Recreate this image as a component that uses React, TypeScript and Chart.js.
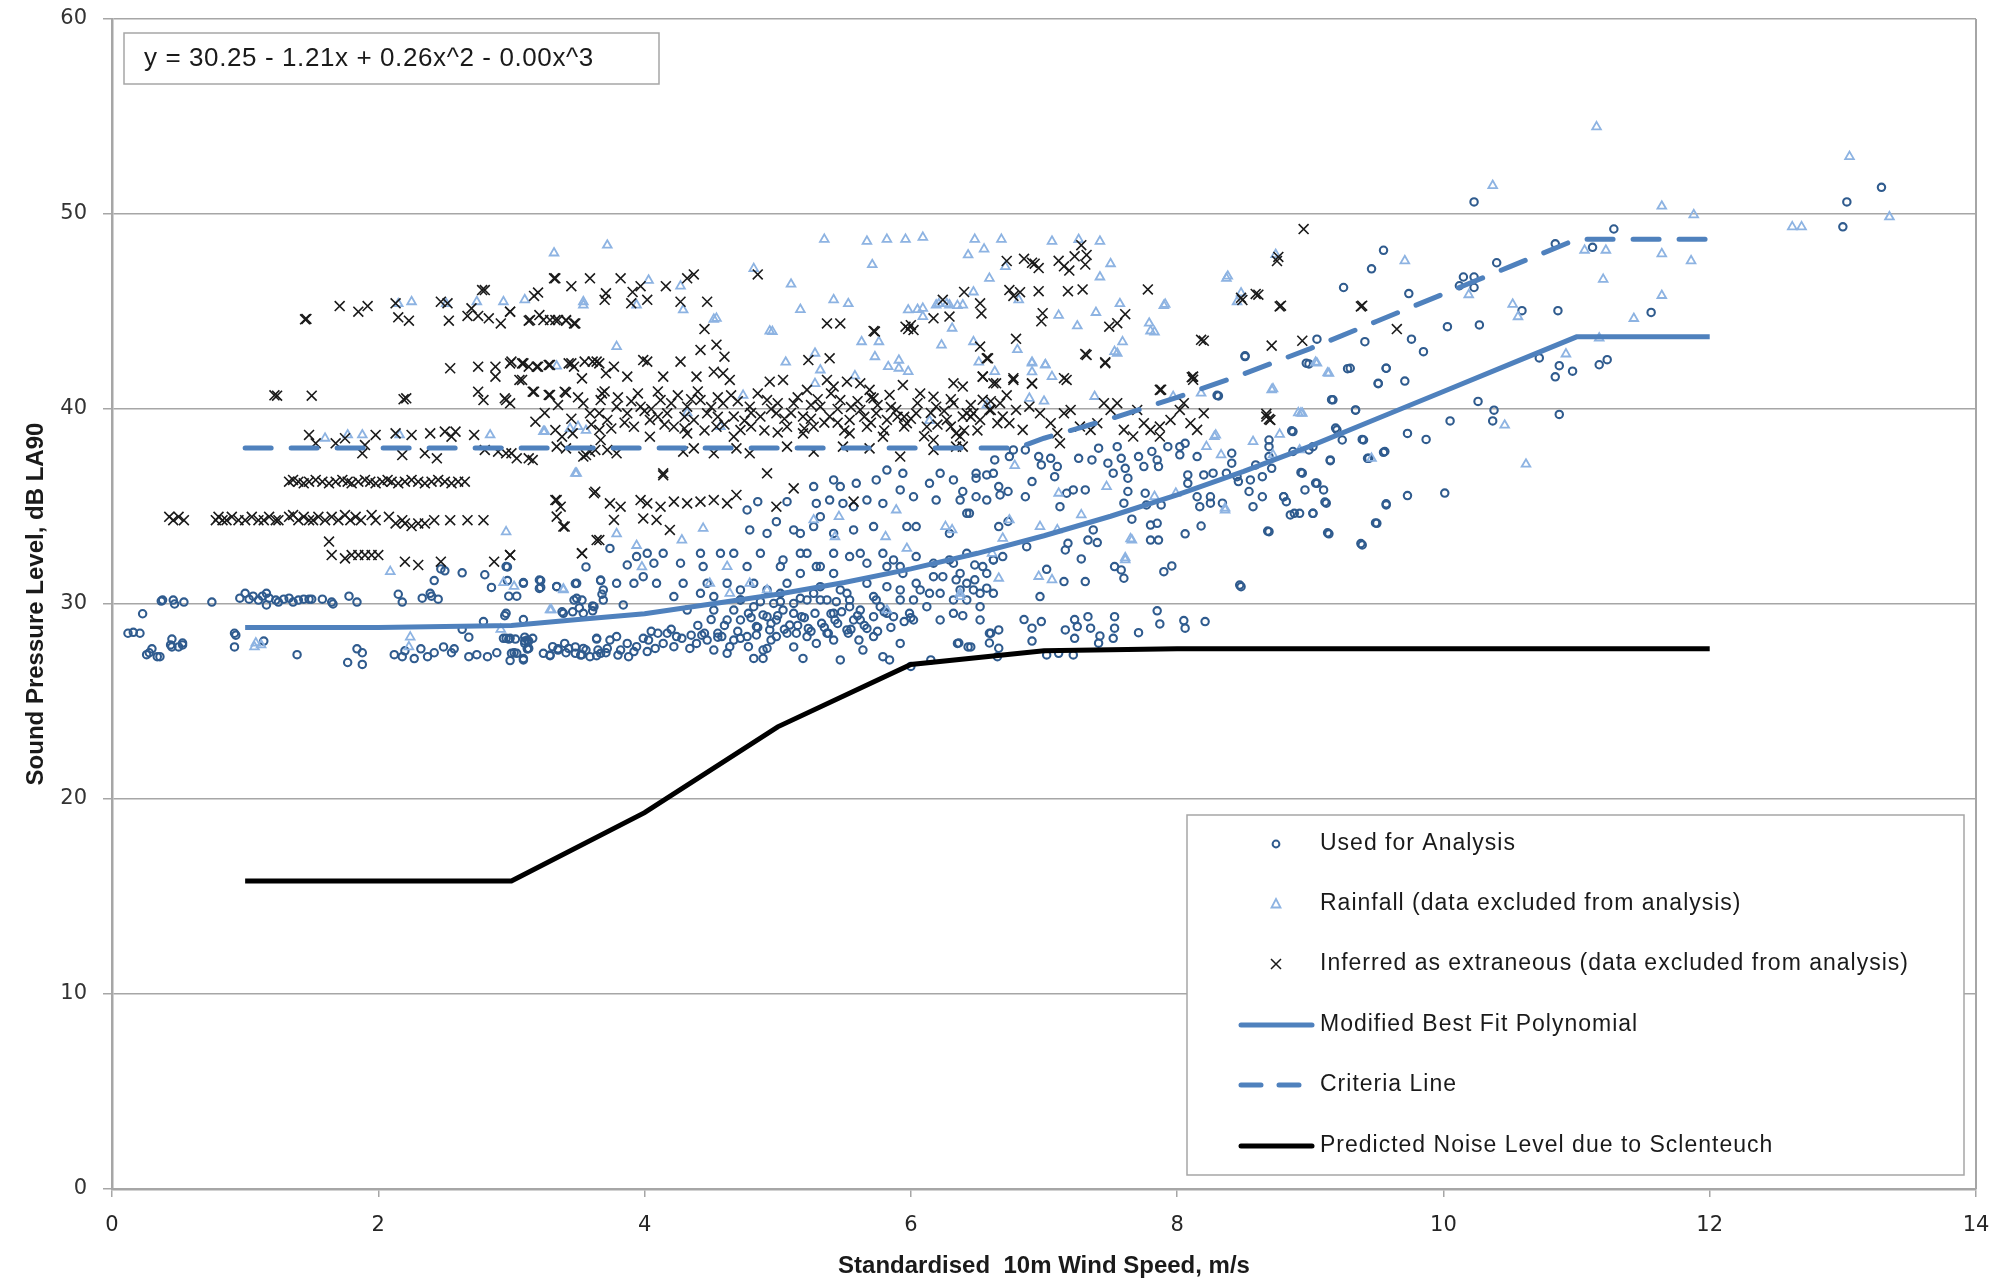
import React, { useEffect, useRef } from 'react';
import { Chart, registerables } from 'chart.js';

Chart.register(...registerables);

// ---------- data ----------
const xTickValues = [0, 2, 4, 6, 8, 10, 12, 14];
const yTickValues = [0, 10, 20, 30, 40, 50, 60];

const equationText = 'y = 30.25 - 1.21x + 0.26x^2 - 0.00x^3';

const seriesLabels = [
  'Used for Analysis',
  'Rainfall (data excluded from analysis)',
  'Inferred as extraneous (data excluded from analysis)',
  'Modified Best Fit Polynomial',
  'Criteria Line',
  'Predicted Noise Level due to Sclenteuch',
];

const bestFitLine: [number, number][] = [
  [1, 28.8], [2, 28.8], [3, 28.9], [3.5, 29.2], [4, 29.5], [4.5, 30.0], [5, 30.5], [5.5, 31.1],
  [6, 31.8], [6.5, 32.6], [7, 33.5], [7.5, 34.5], [8, 35.6], [8.5, 36.8], [9, 38.1], [9.5, 39.5],
  [10, 40.9], [10.5, 42.3], [11, 43.7], [12, 43.7],
];

const criteriaLine: [number, number][] = [
  [1, 38], [6.8, 38], [7, 38.5], [7.5, 39.5], [8, 40.6], [8.5, 41.8], [9, 43.1], [9.5, 44.5],
  [10, 45.9], [10.5, 47.3], [11, 48.7], [12, 48.7],
];

const predictedLine: [number, number][] = [
  [1, 15.8], [2, 15.8], [3, 15.8], [4, 19.3], [5, 23.7], [6, 26.9], [7, 27.6], [8, 27.7],
  [9, 27.7], [10, 27.7], [11, 27.7], [12, 27.7],
];

const usedPoints: [number, number][] = [
  [0.12,28.5],[0.21,28.5],[0.23,29.5],[0.28,27.5],[0.34,27.3],[0.38,30.2],[0.44,27.9],[0.46,30.2],[0.5,27.8],[0.53,28.0],[0.54,30.1],[0.75,30.1],[0.92,28.5],[0.92,27.8],
  [0.16,28.55],[0.26,27.4],[0.3,27.7],[0.36,27.3],[0.37,30.15],[0.47,30.0],[0.45,28.2],[0.45,27.8],[0.53,27.9],[0.93,28.4],[1.14,28.1],
  [0.96,30.3],[1.0,30.55],[1.03,30.25],[1.06,30.4],[1.1,30.2],[1.13,30.4],[1.16,30.55],[1.18,30.3],[1.16,29.95],[1.23,30.2],[1.25,30.1],[1.29,30.25],[1.33,30.3],[1.36,30.1],[1.4,30.2],[1.44,30.25],[1.48,30.25],[1.5,30.25],[1.58,30.25],[1.65,30.1],[1.66,30.0],[1.78,30.4],[1.84,30.1],
  [1.39,27.4],[1.77,27.0],[1.84,27.7],[1.88,27.5],[1.88,26.9],
  [2.12,27.4],[2.18,27.3],[2.2,27.6],[2.27,27.2],[2.32,27.7],[2.37,27.3],[2.42,27.5],[2.49,27.8],[2.55,27.5],[2.57,27.7],[2.68,27.3],[2.74,27.4],[2.82,27.3],[2.89,27.5],[2.99,27.1],[3.02,27.5],[3.09,27.2],[3.12,27.7],[3.13,28.1],[3.1,28.3],
  [2.15,30.5],[2.18,30.1],[2.33,30.3],[2.39,30.55],[2.4,30.4],[2.45,30.25],
  [2.42,31.2],[2.5,31.7],[2.47,31.8],[2.63,31.6],[2.8,31.5],[2.85,30.85],
  [2.63,28.7],[2.68,28.3],[2.79,29.1],[2.95,29.4],[3.09,29.2],
  [2.97,31.9],[2.97,31.2],[2.98,30.4],[3.04,30.4],[3.09,31.1],[3.22,31.2],[3.22,30.85],[3.34,30.9],[3.48,31.05],[3.56,31.9],[3.47,30.2],[3.53,30.2],[3.61,29.9],[3.67,31.2],[3.68,30.5],[3.69,30.2],
  [2.98,28.2],[3.03,28.2],[3.1,28.1],[3.12,27.7],[3.29,27.35],[3.35,27.7],[3.41,27.5],[3.48,27.8],[3.53,27.4],[3.64,28.2],[3.64,27.35],[3.71,27.5],[3.38,29.6],[3.46,29.6],[3.51,29.8],[3.61,29.65],
  [2.96,28.24],[2.99,28.24],[3.12,28.15],[3.0,27.47],[3.09,27.13],[3.13,27.72],[3.29,27.38],[3.35,27.64],[3.43,27.72],[3.52,27.38],[3.56,27.64],[3.64,28.24],[3.67,27.47],[3.72,27.72],[3.79,28.33],[3.8,27.38],[3.87,27.98],[3.92,27.56],[3.99,28.24],[4.02,27.56],[4.1,28.5],[4.14,27.98],[4.24,28.33],[4.34,27.72],[4.43,28.4],[4.47,28.15],[4.55,28.5],[4.62,27.47],[4.67,28.15],[4.77,28.33],[4.82,27.21],[4.89,27.21],[4.92,27.72],[4.99,28.33],[5.07,28.5],[5.12,27.8],[5.19,27.21],[5.22,28.33],[5.29,27.98],[5.37,28.5],[5.42,28.15],[5.47,27.13],[5.53,28.5],[5.61,28.15],[5.64,27.64],[5.72,28.33],[5.79,27.3],[5.84,27.13],[5.92,27.98],[6.0,26.8],[6.15,27.13],[6.35,27.98],[6.45,27.8],[6.6,28.5],[6.65,27.3],
  [2.94,28.24],[3.04,27.47],[3.1,27.98],[3.16,28.24],[3.24,27.47],[3.31,27.81],[3.4,27.98],[3.48,27.47],[3.54,27.72],[3.59,27.3],[3.65,27.64],[3.74,28.15],[3.82,27.64],[3.88,27.3],[3.94,27.81],[4.03,28.15],[4.08,27.72],[4.17,28.5],[4.22,27.81],[4.28,28.24],[4.39,27.98],[4.45,28.5],[4.52,27.64],[4.58,28.33],[4.64,27.81],[4.72,28.24],[4.78,27.81],[4.84,28.41],[4.89,27.64],[4.95,28.15],
  [4.6,28.9],[4.7,28.6],[4.85,28.8],[4.95,29.0],[5.05,28.7],[5.15,28.9],[5.25,28.6],[5.35,28.8],[5.45,29.0],[5.55,28.7],[5.65,28.9],[5.75,28.6],[5.85,28.8],[5.95,29.1],[4.5,29.2],[4.8,29.3],[5.0,29.4],[5.2,29.3],[5.4,29.5],[5.6,29.4],[5.8,29.6],[6.0,29.3],
  [4.67,29.69],[4.72,29.18],[4.78,29.52],[4.84,28.84],[4.89,29.44],[4.94,28.67],[4.99,29.18],[5.04,29.69],[5.09,28.92],[5.14,28.5],[5.18,29.35],[5.23,28.75],[5.28,29.52],[5.33,29.01],[5.38,28.5],[5.43,29.18],[5.48,29.6],[5.52,28.67],[5.57,29.18],[5.62,29.69],[5.67,28.75],[5.72,29.35],[5.77,29.86],[5.54,30.21],[5.44,30.12],[5.32,30.21],[5.17,30.29],[5.02,30.12],[4.87,30.12],[4.72,30.21],
  [4.42,30.55],[4.52,29.69],[4.62,29.18],[4.72,30.72],[4.82,29.86],[4.92,29.35],[5.02,30.55],[5.12,29.52],[5.22,30.21],[5.32,30.89],[5.42,29.52],[5.52,30.55],[5.62,29.18],[5.72,30.38],[5.82,29.52],[5.92,30.21],[6.02,29.18],[6.12,29.86],[6.22,30.55],[6.32,29.52],[6.42,30.21],[6.52,29.86],[6.62,30.55],
  [5.04,32.26],[5.17,32.6],[5.29,31.92],[5.42,31.57],[5.54,32.43],[5.67,32.09],[5.79,32.6],[5.92,31.92],[6.04,32.43],[6.17,31.4],[6.29,32.26],[6.42,32.6],[6.54,31.92],
  [5.87,32.26],[5.94,31.57],[6.04,31.06],[6.14,30.55],[6.24,31.4],[6.32,32.09],[6.42,31.06],[6.52,30.55],[6.57,31.57],[5.82,30.89],[6.02,30.21],
  [4.05,28.6],[4.2,28.7],[4.35,28.4],[4.4,28.9],[4.55,28.3],
  [2.96,31.92],[2.96,29.52],[3.09,31.06],[3.21,31.23],[3.21,30.8],[3.34,30.89],[3.39,29.52],[3.49,31.06],[3.49,30.29],[3.54,29.52],[3.62,29.86],[3.67,31.23],[3.69,30.72],[3.74,32.85],[3.79,31.06],[3.84,29.95],[3.87,32.0],[3.92,31.06],[3.94,32.43],[3.99,31.4],[4.02,32.6],[4.07,32.09],[4.09,31.06],[4.14,32.6],[4.22,30.38],[4.27,32.09],[4.29,31.06],[4.32,29.69],[4.42,32.6],[4.44,31.92],[4.47,31.06],[4.52,30.38],[4.57,32.6],[4.62,31.06],[4.67,32.6],[4.72,30.21],[4.77,31.92],[4.82,31.06],[4.87,32.6],[4.92,30.72],[4.97,30.03],[5.02,31.92],[5.07,31.06],[5.12,30.03],[5.17,31.57],[5.22,32.6],[5.27,30.55],[5.32,31.92],[5.37,30.21],[5.42,32.6],[5.47,30.72],[5.54,29.86],[5.62,32.6],[5.67,31.06],[5.74,30.21],[5.82,31.92],[5.87,29.35],[5.92,30.72],[5.99,29.52],[6.07,30.72],[6.17,32.09],[6.22,29.18],[6.32,30.21],[6.37,31.57],[6.47,30.72],[6.52,29.18],[6.62,32.26],
  [4.77,34.82],[4.85,35.25],[4.99,34.22],[5.07,35.25],[5.12,33.8],[5.27,36.02],[5.29,35.16],[5.32,34.48],[5.39,35.33],[5.42,36.36],[5.47,36.02],[5.49,35.16],[5.57,34.99],[5.59,36.19],[5.67,35.33],[5.74,36.36],[5.79,35.16],[5.82,36.87],[5.92,35.85],[5.94,36.7],[6.02,35.5],[6.04,33.97],[6.14,36.19],[6.19,35.33],[6.22,36.7],[6.32,36.36],[6.37,35.33],[6.44,34.65],[6.49,36.7],[6.57,35.33],[6.62,36.7],[4.79,33.8],[4.92,33.62],[5.17,33.62],[5.27,33.97],[5.42,33.62],[5.57,33.8],[5.72,33.97],[5.97,33.97],[6.29,33.62],
  [6.39,29.4],[6.36,28.0],[6.43,27.8],[6.59,28.5],[6.66,28.67],[6.59,28.0],[6.66,27.73],[6.85,29.2],[6.91,28.76],[6.98,29.1],[6.91,28.1],[7.02,27.39],[7.11,27.47],[7.22,27.39],[7.16,28.67],[7.23,29.2],[7.25,28.84],[7.23,28.24],[7.33,29.35],[7.35,28.76],[7.42,28.36],[7.41,27.99],[7.53,29.35],[7.53,28.76],[7.52,28.24],[7.71,28.53],[7.85,29.65],[7.87,28.98],[8.05,29.15],[8.06,28.76],[8.21,29.1],
  [6.34,31.24],[6.37,30.72],[6.48,32.0],[6.48,31.24],[6.57,30.81],[6.62,32.26],[6.69,32.43],[6.66,33.97],[6.73,34.23],[6.87,32.94],[7.02,31.78],[6.97,30.38],[7.15,31.15],[7.16,32.77],[7.18,33.11],[7.28,32.31],[7.31,31.15],[7.33,33.28],[7.4,33.15],[7.37,33.8],[7.53,31.92],[7.6,31.32],[7.58,31.75],[7.66,34.35],[7.8,33.28],[7.86,33.28],[7.8,34.05],[7.85,34.14],[7.9,31.66],[7.96,31.95],[8.06,33.6],[8.18,34.0],[8.48,30.89],[8.69,33.71],[9.14,33.6],[9.39,33.03],[9.5,34.14],[9.57,35.08],
  [6.42,34.65],[6.39,35.77],[6.49,35.5],[6.49,36.45],[6.57,36.62],[6.67,35.59],[6.73,35.77],[6.66,36.02],[6.63,37.39],[6.74,37.56],[6.77,37.9],[6.86,37.9],[6.91,36.28],[6.86,35.5],[6.96,37.56],[6.98,37.13],[7.05,37.47],[7.1,37.05],[7.08,36.53],[7.12,34.99],[7.17,35.68],[7.22,35.85],[7.26,37.47],[7.31,35.85],[7.36,37.39],[7.41,37.99],[7.48,37.22],[7.52,36.71],[7.55,38.07],[7.58,37.47],[7.61,36.96],[7.6,35.17],[7.63,36.45],[7.63,35.77],[7.71,37.56],[7.75,37.05],[7.76,35.68],[7.77,35.08],[7.81,37.82],[7.85,37.39],[7.86,37.05],[7.88,35.08],[7.93,38.07],[8.02,38.07],[8.06,38.24],[8.02,37.65],[8.08,36.62],[8.08,36.19],[8.15,37.56],[8.15,35.5],[8.17,34.99],[8.2,36.62],[8.27,36.71],[8.25,35.5],[8.25,35.17],[8.34,35.17],[8.37,36.71],[8.41,37.73],[8.41,37.22],[8.45,36.53],[8.46,36.28],[8.54,35.77],[8.57,34.99],[8.55,36.36],[8.59,37.13],[8.64,36.53],[8.64,35.5],[8.69,38.41],[8.69,38.07],[8.69,37.56],[8.71,36.96],[8.8,35.5],[8.82,35.25],[8.85,34.57],[8.87,38.84],[8.87,37.82],[8.92,34.65],[9.02,34.65],[8.94,36.71],[8.96,35.85],[8.99,37.9],[9.02,38.07],[9.05,36.19],[9.1,35.85],[9.12,35.17],[9.15,37.39],[9.17,40.47],[9.2,38.93],[9.24,38.41],[9.3,42.09],[9.34,39.95],[9.4,38.41],[9.44,37.47],[9.51,41.32],[9.56,37.82],[9.57,42.09],[8.97,42.35],[8.51,42.69],[8.31,40.67],
  [10.23,50.62],[13.03,50.62],[13.29,51.37],[13.0,49.34],[11.28,49.23],[10.84,48.47],[11.12,48.29],[9.55,48.14],[9.46,47.19],[10.4,47.5],[10.15,46.77],[10.23,46.77],[10.12,46.32],[10.23,46.23],[9.25,46.23],[9.74,45.92],[10.59,45.04],[10.86,45.04],[11.56,44.95],[10.03,44.22],[10.27,44.31],[9.05,43.58],[9.41,43.45],[9.76,43.58],[9.85,42.94],[8.51,42.73],[8.99,42.31],[9.28,42.07],[9.57,42.09],[9.51,41.3],[9.71,41.43],[10.72,42.62],[10.87,42.22],[10.97,41.94],[10.84,41.65],[11.17,42.27],[11.23,42.53],[8.3,40.7],[9.16,40.48],[9.34,39.94],[10.26,40.39],[10.38,39.94],[10.37,39.39],[10.05,39.39],[10.87,39.72],[9.73,38.75],[9.87,38.44],[8.86,38.88],[9.19,39.02],[9.39,38.44],[9.15,37.35],[9.43,37.47],[9.55,37.78],[8.93,36.75],[9.04,36.2],[9.11,35.23],[8.8,35.5],[8.88,34.65],[9.02,34.65],[8.68,33.74],[9.13,33.65],[9.38,33.1],[9.49,34.16],[9.57,35.14],[9.73,35.56],[10.01,35.69],[8.47,30.97],
];

const rainPoints: [number, number][] = [
  [11.15,54.47],[10.37,51.46],[13.05,52.94],[11.64,50.4],[11.88,49.96],[13.35,49.85],[12.62,49.34],[12.69,49.34],[11.06,48.14],[11.22,48.14],[11.64,47.96],[11.86,47.6],[11.2,46.65],[11.64,45.82],[11.43,44.64],[10.56,44.73],[10.52,45.37],[10.19,45.86],[9.71,47.6],[8.74,47.92],[8.38,46.81],[8.48,45.95],[7.91,45.37],[7.79,44.4],[7.83,43.95],[7.59,43.44],[7.53,42.94],[7.25,44.26],[7.39,44.95],[7.42,46.77],[7.5,47.45],[7.06,48.6],[7.26,48.69],[7.42,48.6],[6.8,43.04],[6.91,42.4],[7.01,42.27],[6.91,41.9],[8.72,41.03],[9.13,41.85],[9.04,42.4],[8.93,39.79],[8.29,38.66],[10.92,42.82],[11.17,43.64],[10.46,39.17],[10.62,37.17],[8.36,34.92],[7.65,33.34],[7.61,32.37],
  [5.35,48.7],[5.67,48.6],[5.82,48.7],[5.96,48.7],[6.09,48.8],[6.48,48.7],[6.55,48.2],[6.68,48.7],[3.32,48.0],[3.72,48.4],[4.03,46.6],[4.82,47.2],[5.1,46.4],[5.71,47.4],[5.17,45.1],[4.94,44.0],[5.42,45.6],[5.53,45.4],[6.05,45.1],[6.21,45.4],[6.27,45.4],[6.35,45.3],[6.47,46.0],[6.43,47.9],[6.59,46.7],[6.71,47.3],[6.81,45.6],[7.11,44.8],[7.57,45.4],[7.8,44.0],[7.9,45.3],[8.37,46.7],[8.45,45.5],[8.91,39.8],[8.77,38.7],[2.15,45.4],[2.25,45.5],[2.51,45.4],[2.74,45.5],[2.94,45.5],[3.1,45.6],[3.54,45.5],[3.79,43.2],[3.34,42.2],[4.27,46.3],[4.52,44.6],[4.32,39.8],[4.57,39.1],[4.74,40.7],[5.06,42.4],[5.28,41.3],[5.58,41.7],[5.91,42.5],[6.14,39.4],[6.51,42.4],[6.57,40.2],[7.0,40.4],[6.78,37.1],
  [1.08,28.0],[1.12,27.9],[1.6,38.5],[1.77,38.67],[1.88,38.67],[2.16,38.67],[2.84,38.67],[3.25,38.85],[3.44,39.0],[3.5,39.1],[3.56,38.9],[3.48,36.7],[2.96,33.7],[2.09,31.66],[2.94,31.1],[3.02,30.9],[3.3,29.7],[3.39,30.77],[2.24,28.3],[2.23,27.8],[2.92,28.7],[1.07,27.8],
  [3.24,38.84],[3.49,36.7],[3.79,33.6],[3.94,33.0],[3.98,31.9],[3.29,29.7],[3.39,30.72],[3.54,45.33],[3.94,45.33],[4.29,45.08],[4.54,44.65],[4.96,43.97],[5.63,43.45],[5.76,43.45],[5.73,42.68],[5.83,42.17],[5.91,42.09],[5.98,41.92],[5.28,42.86],[5.32,42.0],[6.23,43.28],[6.47,43.45],[5.98,45.08],[6.09,45.16],[6.19,45.33],[6.29,45.33],[6.39,45.33],[6.31,44.14],[6.09,44.74],[5.89,34.82],[5.46,34.48],[5.27,34.31],[5.43,33.45],[5.81,33.45],[6.26,33.97],[6.31,33.8],[5.97,32.85],[6.61,32.6],[6.37,30.55],[5.82,29.69],[4.28,33.28],[4.44,33.88],[4.62,31.92],[4.64,30.55],[4.79,31.06],[4.49,31.06],[4.92,30.72],
  [8.94,39.78],[8.71,40.98],[8.57,38.33],[8.72,37.65],[8.92,37.9],[9.46,37.47],[8.33,37.65],[8.28,38.59],[8.22,38.07],[7.97,40.64],[8.18,40.81],[7.55,42.86],[7.38,40.64],[7.01,42.26],[6.91,42.35],[6.63,41.92],[7.06,41.66],[6.89,40.55],[7.11,35.68],[7.47,36.02],[7.66,33.28],[7.61,32.26],[6.74,34.31],[6.69,33.37],[6.96,31.41],[7.06,31.24],[6.66,31.32],[6.37,30.38],[7.83,35.51],[7.99,35.68],[8.36,34.82],[9.14,41.83],[9.05,42.35],[6.97,33.97],[7.1,33.8],[7.28,34.57],
];

const extraneousPoints: [number, number][] = [
  [0.43,34.47],[0.46,34.3],[0.5,34.47],[0.54,34.3],[0.78,34.3],[0.8,34.47],[0.83,34.3],[0.86,34.3],[0.9,34.47],[0.95,34.3],[1.0,34.3],[1.05,34.47],[1.1,34.3],[1.14,34.3],[1.18,34.47],[1.23,34.3],[1.25,34.3],[1.33,34.47],[1.36,34.56],[1.4,34.3],[1.44,34.47],[1.48,34.3],[1.51,34.3],[1.55,34.47],[1.6,34.3],[1.65,34.47],[1.7,34.3],[1.75,34.56],[1.79,34.3],[1.83,34.47],[1.87,34.3],[1.95,34.56],[1.98,34.3],[2.08,34.47],[2.13,34.13],[2.18,34.3],[2.2,34.13],[2.25,34.0],[2.3,34.13],[2.35,34.13],[2.42,34.3],[2.54,34.3],[2.67,34.3],[2.79,34.3],
  [1.33,36.27],[1.36,36.36],[1.4,36.27],[1.44,36.19],[1.48,36.27],[1.53,36.36],[1.58,36.27],[1.63,36.19],[1.68,36.27],[1.73,36.36],[1.77,36.27],[1.8,36.19],[1.85,36.27],[1.9,36.36],[1.94,36.27],[1.98,36.19],[2.03,36.27],[2.07,36.36],[2.1,36.27],[2.15,36.19],[2.2,36.27],[2.25,36.36],[2.3,36.27],[2.35,36.19],[2.4,36.27],[2.45,36.36],[2.5,36.27],[2.55,36.19],[2.6,36.27],[2.65,36.27],
  [1.48,38.67],[1.53,38.24],[1.68,38.24],[1.75,38.5],[1.88,37.73],[1.9,38.15],[1.98,38.67],[2.13,38.75],[2.18,37.64],[2.25,38.67],[2.35,37.73],[2.39,38.75],[2.44,37.47],[2.5,38.84],[2.55,38.58],[2.58,38.84],[2.72,38.67],[2.8,37.9],[2.9,37.81],[3.0,37.73],[3.13,37.47],[3.18,39.35],[3.33,38.92],[3.38,38.58],[3.46,38.75],[3.56,37.64],[3.63,37.9],[3.66,39.78],[3.66,38.92],
  [1.63,33.2],[1.65,32.51],[1.75,32.34],[1.8,32.51],[1.85,32.51],[1.9,32.51],[1.95,32.51],[2.0,32.51],[2.2,32.17],[2.3,32.0],[2.47,32.17],[2.87,32.17],[2.99,32.51],[3.53,32.6],[3.66,33.28],
  [3.33,35.33],[3.37,34.99],[3.34,34.48],[3.4,33.97],[3.63,35.76],
  [1.24,40.68],[1.5,40.68],[2.21,40.55],[1.46,44.62],[1.71,45.28],[1.85,44.99],[1.92,45.28],[2.13,45.42],[2.15,44.7],[2.23,44.53],[2.47,45.5],[2.52,45.42],[2.53,44.53],[2.67,44.77],[2.7,45.16],[2.75,44.77],[2.8,46.1],[2.83,44.65],[2.92,44.39],[2.99,44.99],[3.13,44.53],[3.2,45.97],[3.24,44.56],[3.33,46.7],[3.33,44.56],[3.41,44.53],[3.47,44.39],[3.71,45.93],
  [2.54,42.09],[2.75,42.17],[2.88,42.17],[2.88,41.66],[3.0,42.43],[3.08,42.34],[3.13,42.17],[3.2,42.17],[3.28,42.26],[3.43,42.34],[3.47,42.17],[3.53,41.57],[3.61,42.43],[3.66,42.34],[3.08,41.49],[3.17,40.89],[3.28,40.72],[3.41,40.84],[2.75,40.89],[2.79,40.46],[2.95,40.55],[2.99,40.29],[3.71,41.83],[3.68,40.8],
  [2.99,44.99],[3.14,44.56],[3.21,44.82],[3.29,44.56],[3.35,44.56],[3.41,44.56],[3.48,44.39],[3.9,45.42],[4.27,45.5],[4.47,45.5],[5.37,44.39],[5.47,44.39],[5.73,43.97],[5.96,44.22],[6.02,44.05],[6.17,44.65],[6.29,44.74],[6.52,45.42],[4.42,43.03],[4.6,42.68],[5.23,42.51],[5.39,42.6],[6.57,42.6],
  [2.99,42.34],[3.09,42.34],[3.19,42.17],[3.29,42.26],[3.45,42.34],[3.55,42.43],[3.64,42.43],[3.77,42.17],[3.87,41.66],[3.99,42.51],[4.02,42.43],[4.14,41.66],[4.27,42.43],[4.39,41.66],[4.52,41.91],[4.59,41.83],[4.64,41.49],[4.94,41.4],[5.04,41.49],[5.22,40.98],[5.37,41.49],[5.42,41.15],[5.52,41.4],[5.62,41.32],[5.69,40.98],[5.84,40.72],[5.94,41.23],[6.07,40.8],[6.17,40.63],[6.32,41.32],[6.39,41.15],[6.54,41.66],[6.64,41.32],[5.72,40.55],
  [2.96,40.46],[3.06,41.49],[3.16,40.89],[3.29,40.72],[3.4,40.89],[3.54,40.29],[3.59,39.78],[3.67,40.46],[3.72,39.44],[3.79,40.12],[3.87,39.78],[3.92,39.09],[3.97,40.12],[4.04,39.44],[4.12,40.46],[4.17,39.78],[4.22,39.09],[4.32,40.12],[4.37,39.44],[4.42,40.46],[4.47,39.78],[4.54,39.09],[4.59,40.29],[4.67,39.61],[4.72,38.92],[4.79,40.12],[4.87,39.61],[4.92,40.46],[4.99,39.78],[5.07,39.09],[5.12,40.29],[5.19,39.61],[5.27,39.09],[5.32,40.12],[5.39,39.61],[5.47,40.46],[5.54,39.44],[5.62,39.95],[5.67,39.09],[5.74,39.78],[5.82,39.44],[5.89,39.95],[5.97,39.27],[6.04,39.78],[6.12,39.09],[6.19,40.12],[6.27,39.44],[6.34,38.75],[6.42,39.78],[6.52,39.44],[6.6,39.95],[6.65,39.27],[4.32,38.75],[4.67,38.58],[4.04,38.58],[3.67,38.41],[5.19,38.75],[5.54,38.75],[5.79,38.58],[6.17,38.41],
  [3.8,40.6],[3.95,40.8],[4.1,40.9],[4.25,40.7],[4.4,40.9],[4.55,40.6],[4.7,40.4],[4.85,40.8],[5.0,40.3],[5.15,40.6],[5.3,40.5],[5.45,40.0],[5.6,40.4],[5.75,40.2],[5.9,39.6],[6.05,40.3],[6.25,39.9],[6.45,40.2],[3.85,39.3],[4.0,39.9],[4.15,39.2],[4.3,39.6],[4.45,38.9],[4.6,39.2],[4.75,39.4],[4.9,38.9],[5.05,39.5],[5.2,39.0],[5.35,39.3],[5.5,38.9],[5.65,39.6],[5.8,38.9],[5.95,39.1],[6.1,38.6],[6.3,39.1],[6.5,38.9],
  [4.05,40.0],[4.2,40.3],[4.35,40.5],[4.5,40.1],[4.65,40.7],[4.8,39.8],[4.95,40.0],[5.1,39.8],[5.25,40.2],[5.4,40.8],[5.55,40.1],[5.7,40.6],[5.85,40.1],[6.0,39.5],[6.15,39.8],[6.3,40.5],[6.45,39.6],[6.6,40.4],[4.1,39.6],[4.3,39.0],[4.55,39.6],[4.8,39.1],[5.0,38.8],[5.25,39.5],[5.45,39.3],[5.7,39.3],[5.95,39.6],[6.2,39.2],[6.4,38.9],
  [3.25,39.8],[3.35,40.2],[3.45,39.5],[3.5,40.6],[3.6,39.2],[3.7,40.9],[3.75,39.0],[3.9,40.4],
  [2.96,37.73],[3.04,37.47],[3.16,37.38],[3.34,38.07],[3.41,37.98],[3.54,37.56],[3.59,37.81],[3.72,37.9],[3.79,37.73],[4.29,37.81],[4.37,37.98],[4.52,37.73],[4.69,37.98],[4.79,37.73],[5.07,38.07],[5.27,37.81],[5.49,38.07],[5.69,37.98],[5.92,37.56],[6.17,37.9],[6.39,38.07],
  [4.14,36.7],[4.92,36.7],[5.12,35.93],
  [3.34,35.33],[3.39,33.97],[3.62,35.68],[3.74,35.16],[3.82,34.99],[3.97,35.33],[4.02,35.16],[4.12,34.99],[4.22,35.25],[4.32,35.16],[4.42,35.25],[4.52,35.33],[4.62,35.16],[4.69,35.59],[4.99,34.99],[5.57,35.25],[3.77,34.31],[3.99,34.39],[4.09,34.31],[4.19,33.8],[3.64,33.28],[3.53,32.6],[2.99,32.51],
  [6.58,42.6],[7.32,42.77],[7.46,42.35],[6.54,41.66],[6.62,41.32],[6.77,41.49],[6.91,41.32],[7.17,41.49],[8.12,41.66],[7.87,40.98],
  [6.32,40.3],[6.39,39.61],[6.37,38.59],[6.47,39.78],[6.54,40.47],[6.59,39.95],[6.67,40.3],[6.69,39.61],[6.74,39.27],[6.79,39.95],[6.84,38.93],[6.89,40.12],[6.97,39.78],[7.05,39.27],[7.1,38.76],[7.15,39.78],[7.2,39.95],[7.12,38.24],[7.27,39.1],[7.35,38.93],[7.4,39.27],[7.45,40.3],[7.5,39.95],[7.55,40.3],[7.6,38.93],[7.7,39.95],[7.75,39.27],[7.8,38.93],[7.87,39.1],[7.95,39.44],[8.02,39.95],[8.05,40.3],[8.1,39.27],[8.15,38.93],[8.2,39.78],[8.67,39.61],[8.7,39.44],[6.34,38.07],[7.67,38.59],[7.87,38.59],
  [8.95,49.23],[8.75,47.59],[8.49,45.59],[8.61,45.86],[8.77,45.26],[9.38,45.26],[7.78,46.13],[8.18,43.55],[8.71,43.25],[8.11,41.63],[7.88,40.99],[7.31,42.82],[7.46,42.4],[7.61,44.86],[7.49,44.22],[7.55,44.4],[6.99,44.91],[6.77,45.8],[6.82,45.99],[6.96,46.04],[7.18,46.04],[7.29,46.13],[6.72,47.59],[6.93,47.45],[6.96,47.23],[7.15,47.32],[7.23,47.83],[7.31,47.41],[6.77,41.58],[6.91,41.3],[7.15,41.58],[6.72,40.7],[8.67,39.75],[8.69,39.48],
  [4.85,46.9],[4.16,46.3],[4.32,46.7],[4.37,46.9],[3.97,46.3],[3.91,46.0],[3.82,46.7],[3.7,45.6],[3.59,46.7],[3.45,46.3],[3.32,46.7],[3.17,45.8],[4.02,45.6],[4.45,44.1],[5.72,44.0],[5.98,44.1],[6.0,44.3],[6.24,45.6],[6.4,46.0],[6.53,44.9],[6.74,46.1],[6.85,47.7],[6.91,47.5],[7.11,47.6],[7.19,47.1],[7.28,48.4],[7.32,47.9],[6.98,44.5],[6.52,43.2],[6.79,43.6],[4.54,43.3],[4.14,36.6],[8.94,43.5],[9.39,45.3],[9.65,44.1],[8.78,45.3],[8.48,45.7],[8.59,45.9],[8.76,47.8],[8.2,43.5],[8.12,41.5],
  [1.45,44.6],[1.22,40.7],[2.19,40.5],[2.78,46.1],
];

// ---------- styles ----------
const usedColor = '#2F5B8E';
const rainColor = '#8DB3E2';
const crossColor = '#1A1A1A';
const fitColor = '#4F81BD';
const gridColor = '#A6A6A6';
const tickFont = "'DejaVu Sans', Verdana, sans-serif";
const textFont = "'Liberation Sans', Arial, sans-serif";

const toXY = (arr: [number, number][]) => arr.map(([x, y]) => ({ x, y }));

const overlayPlugin = {
  id: 'overlay',
  afterDraw(chart: any) {
    const ctx: any = chart.ctx;
    const { top, bottom, right } = chart.chartArea;
    ctx.save();
    ctx.strokeStyle = gridColor;
    ctx.lineWidth = 2;
    ctx.beginPath();
    ctx.moveTo(right, top);
    ctx.lineTo(right, bottom);
    ctx.stroke();

    // equation box
    ctx.fillStyle = '#ffffff';
    ctx.fillRect(124, 33, 535, 51);
    ctx.strokeStyle = gridColor;
    ctx.lineWidth = 1.5;
    ctx.strokeRect(124, 33, 535, 51);
    ctx.fillStyle = '#1a1a1a';
    ctx.font = `26px ${textFont}`;
    ctx.letterSpacing = '0.6px';
    ctx.textBaseline = 'middle';
    ctx.textAlign = 'left';
    ctx.fillText(equationText, 144, 59);

    // legend box
    const lx = 1187, ly = 815, lw = 777, lh = 360;
    ctx.fillStyle = '#ffffff';
    ctx.fillRect(lx, ly, lw, lh);
    ctx.strokeStyle = gridColor;
    ctx.lineWidth = 1.5;
    ctx.strokeRect(lx, ly, lw, lh);
    const rowsY = [844, 904, 964, 1025, 1085, 1146];
    const mx = 1276;
    ctx.font = `23px ${textFont}`;
    ctx.letterSpacing = '1px';
    seriesLabels.forEach((label, i) => {
      const y = rowsY[i];
      ctx.save();
      if (i === 0) {
        ctx.strokeStyle = usedColor;
        ctx.lineWidth = 2;
        ctx.beginPath();
        ctx.arc(mx, y, 3.4, 0, Math.PI * 2);
        ctx.stroke();
      } else if (i === 1) {
        ctx.strokeStyle = rainColor;
        ctx.lineWidth = 1.8;
        ctx.beginPath();
        ctx.moveTo(mx, y - 5);
        ctx.lineTo(mx + 4.5, y + 3.5);
        ctx.lineTo(mx - 4.5, y + 3.5);
        ctx.closePath();
        ctx.stroke();
      } else if (i === 2) {
        ctx.strokeStyle = crossColor;
        ctx.lineWidth = 1.5;
        ctx.beginPath();
        ctx.moveTo(mx - 5, y - 5);
        ctx.lineTo(mx + 5, y + 5);
        ctx.moveTo(mx + 5, y - 5);
        ctx.lineTo(mx - 5, y + 5);
        ctx.stroke();
      } else {
        ctx.strokeStyle = i === 5 ? '#000000' : fitColor;
        ctx.lineWidth = 5;
        ctx.lineCap = 'round';
        if (i === 4) ctx.setLineDash([20, 18]);
        ctx.beginPath();
        ctx.moveTo(1241, y);
        ctx.lineTo(1312, y);
        ctx.stroke();
      }
      ctx.restore();
      ctx.fillStyle = '#1a1a1a';
      ctx.textBaseline = 'middle';
      ctx.textAlign = 'left';
      ctx.fillText(label, 1320, y);
    });
    ctx.letterSpacing = '0px';
    ctx.restore();
  },
};

export default function App() {
  const canvasRef = useRef<HTMLCanvasElement | null>(null);

  useEffect(() => {
    if (!canvasRef.current) return;
    const chart = new Chart(canvasRef.current, {
      type: 'scatter',
      data: {
        datasets: [
          {
            label: seriesLabels[3],
            data: toXY(bestFitLine),
            showLine: true,
            borderColor: fitColor,
            borderWidth: 5,
            pointRadius: 0,
            tension: 0,
            order: 0,
          },
          {
            label: seriesLabels[4],
            data: toXY(criteriaLine),
            showLine: true,
            borderColor: fitColor,
            borderWidth: 5,
            borderDash: [26, 20],
            borderCapStyle: 'round',
            pointRadius: 0,
            order: 0,
          },
          {
            label: seriesLabels[5],
            data: toXY(predictedLine),
            showLine: true,
            borderColor: '#000000',
            borderWidth: 5,
            pointRadius: 0,
            order: 0,
          },
          {
            label: seriesLabels[2],
            data: toXY(extraneousPoints),
            pointStyle: 'crossRot',
            pointRadius: 7,
            pointBorderColor: crossColor,
            pointBorderWidth: 1.6,
            backgroundColor: crossColor,
            borderColor: crossColor,
            order: 1,
          },
          {
            label: seriesLabels[1],
            data: toXY(rainPoints),
            pointStyle: 'triangle',
            pointRadius: 5,
            pointBorderColor: rainColor,
            pointBackgroundColor: 'rgba(0,0,0,0)',
            pointBorderWidth: 1.8,
            borderColor: rainColor,
            order: 2,
          },
          {
            label: seriesLabels[0],
            data: toXY(usedPoints),
            pointStyle: 'circle',
            pointRadius: 3.7,
            pointBorderColor: usedColor,
            pointBackgroundColor: 'rgba(0,0,0,0)',
            pointBorderWidth: 2.1,
            borderColor: usedColor,
            order: 3,
          },
        ],
      },
      options: {
        animation: false,
        responsive: true,
        maintainAspectRatio: false,
        events: [],
        layout: { padding: { left: 20, right: 20, top: 19, bottom: 4 } },
        plugins: {
          legend: { display: false },
          tooltip: { enabled: false },
          title: { display: false },
        },
        scales: {
          x: {
            type: 'linear',
            min: 0,
            max: 14,
            afterBuildTicks: (scale: any) => {
              scale.ticks = xTickValues.map((v) => ({ value: v }));
            },
            afterFit: (scale: any) => {
              scale.height = 92;
              scale.paddingLeft = 0;
              scale.paddingRight = 0;
              scale.paddingTop = 0;
              scale.paddingBottom = 0;
            },
            grid: {
              display: true,
              drawOnChartArea: false,
              drawTicks: true,
              tickLength: 8,
              color: gridColor,
              lineWidth: 1.5,
            },
            border: { display: true, color: gridColor, width: 2.5 },
            ticks: {
              color: '#262626',
              padding: 16,
              font: { family: tickFont, size: 21 },
            },
            title: {
              display: true,
              text: 'Standardised  10m Wind Speed, m/s',
              color: '#1a1a1a',
              font: { family: textFont, size: 24, weight: 'bold' },
              padding: { top: 0, bottom: 0 },
            },
          },
          y: {
            type: 'linear',
            min: 0,
            max: 60,
            afterBuildTicks: (scale: any) => {
              scale.ticks = yTickValues.map((v) => ({ value: v }));
            },
            afterFit: (scale: any) => {
              scale.width = 92;
              scale.paddingLeft = 0;
              scale.paddingRight = 0;
              scale.paddingTop = 0;
              scale.paddingBottom = 0;
            },
            grid: {
              display: true,
              drawOnChartArea: true,
              drawTicks: true,
              tickLength: 9,
              color: gridColor,
              lineWidth: 1.5,
            },
            border: { display: true, color: gridColor, width: 2.5 },
            ticks: {
              color: '#333333',
              padding: 16,
              font: { family: tickFont, size: 21 },
            },
            title: {
              display: true,
              text: 'Sound Pressure Level, dB LA90',
              color: '#1a1a1a',
              font: { family: textFont, size: 24, weight: 'bold' },
              padding: { top: 2, bottom: 0 },
            },
          },
        },
      },
      plugins: [overlayPlugin],
    } as any);
    return () => chart.destroy();
  }, []);

  return (
    <div
      style={{
        position: 'fixed',
        left: 0,
        top: 0,
        width: '1996px',
        height: '1285px',
        background: '#ffffff',
      }}
    >
      <canvas ref={canvasRef} />
    </div>
  );
}
